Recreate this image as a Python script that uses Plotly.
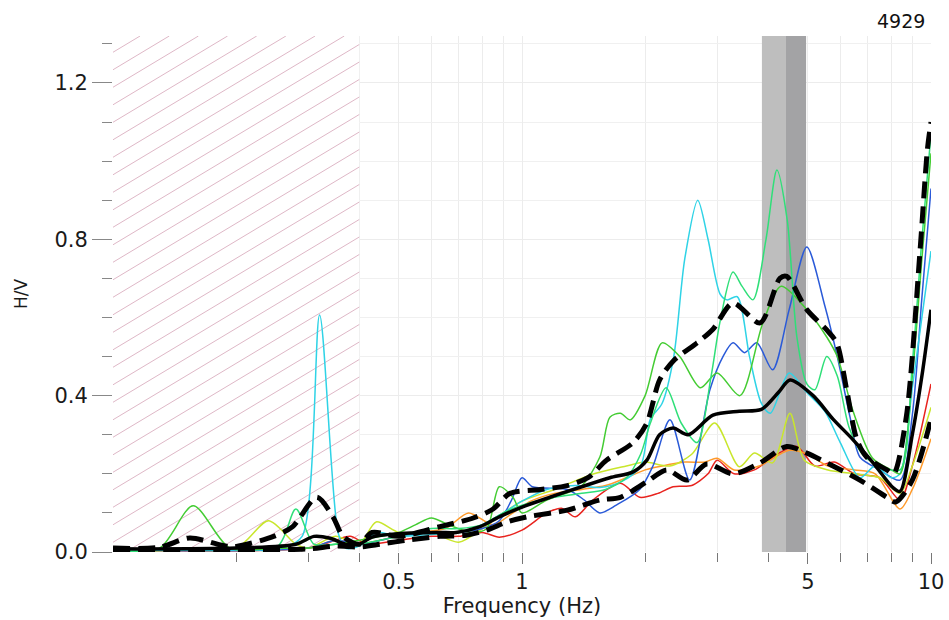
import plotly.graph_objects as go
import math

# ---------------- data ----------------
f_mean = [0.1, 0.2, 0.28, 0.31, 0.34, 0.37, 0.4, 0.43, 0.52, 0.63, 0.69, 0.79, 0.88, 1.0, 1.17, 1.4, 1.64,
          1.87, 2.02, 2.17, 2.34, 2.55, 2.93, 3.4, 3.85, 4.25, 4.52, 5.15, 5.76, 6.45, 7.22, 8.07, 8.4, 9.0, 9.5, 10]
v_mean = [0.008, 0.01, 0.02, 0.04, 0.035, 0.02, 0.02, 0.038, 0.048, 0.05, 0.05, 0.065, 0.09, 0.115, 0.14, 0.167, 0.19,
          0.205, 0.235, 0.30, 0.317, 0.30, 0.35, 0.36, 0.365, 0.41, 0.44, 0.40, 0.34, 0.287, 0.228, 0.165, 0.155, 0.30, 0.45, 0.62]

f_upper = [0.1, 0.13, 0.154, 0.18, 0.196, 0.247, 0.275, 0.315, 0.345, 0.365, 0.4, 0.43, 0.5, 0.63, 0.76, 0.85, 0.935,
           1.11, 1.29, 1.45, 1.61, 1.87, 2.02, 2.17, 2.35, 2.68, 2.93, 3.28, 3.82, 4.27, 4.44, 4.97, 5.56, 5.88, 6.22,
           6.59, 6.96, 7.8, 8.1, 8.7, 9.4, 9.8, 10]
v_upper = [0.01, 0.012, 0.036, 0.02, 0.013, 0.04, 0.065, 0.14, 0.09, 0.04, 0.02, 0.05, 0.04, 0.065, 0.087, 0.11, 0.15,
           0.16, 0.17, 0.19, 0.235, 0.28, 0.33, 0.44, 0.49, 0.535, 0.57, 0.637, 0.586, 0.70, 0.705, 0.62, 0.568, 0.535, 0.415,
           0.287, 0.243, 0.21, 0.20, 0.345, 0.77, 1.03, 1.10]

f_lower = [0.1, 0.2, 0.3, 0.35, 0.4, 0.45, 0.52, 0.63, 0.73, 0.82, 0.92, 1.03, 1.29, 1.55, 1.74, 2.02, 2.26, 2.53,
           2.83, 3.28, 3.82, 4.44, 4.97, 5.76, 6.7, 7.8, 8.2, 9.0, 10]
v_lower = [0.005, 0.005, 0.008, 0.015, 0.013, 0.02, 0.03, 0.04, 0.043, 0.056, 0.077, 0.09, 0.107, 0.133, 0.14, 0.18, 0.21, 0.184,
           0.225, 0.20, 0.228, 0.27, 0.253, 0.22, 0.184, 0.14, 0.128, 0.184, 0.34]

f_cyan = [0.1, 0.2, 0.26, 0.29, 0.32, 0.355, 0.37, 0.4, 0.44, 0.5, 0.6, 0.7, 0.8, 0.9, 1.0, 1.15, 1.35, 1.55, 1.75,
          1.95, 2.06, 2.2, 2.35, 2.5, 2.69, 2.85, 3.05, 3.17, 3.36, 3.6, 3.85, 4.05, 4.5, 4.95, 5.5, 6.0, 6.7, 7.3,
          8.0, 8.4, 9.0, 9.5, 10]
v_cyan = [0.005, 0.005, 0.01, 0.04, 0.606, 0.05, 0.01, 0.015, 0.05, 0.04, 0.045, 0.05, 0.07, 0.10, 0.13, 0.16, 0.17, 0.165, 0.18,
          0.22, 0.34, 0.38, 0.50, 0.75, 0.90, 0.80, 0.66, 0.645, 0.653, 0.50, 0.38, 0.355, 0.458, 0.41, 0.36, 0.28, 0.19, 0.22,
          0.19, 0.20, 0.42, 0.60, 0.77]

f_blue = [0.1, 0.3, 0.35, 0.4, 0.5, 0.6, 0.7, 0.8, 0.88, 0.94, 1.0, 1.06, 1.29, 1.42, 1.55, 1.7, 1.94, 2.09, 2.3,
          2.57, 2.88, 3.1, 3.28, 3.5, 3.75, 4.1, 4.5, 4.97, 5.5, 5.9, 6.34, 6.7, 7.5, 8.4, 9.0, 9.5, 10]
v_blue = [0.005, 0.01, 0.03, 0.02, 0.04, 0.05, 0.05, 0.06, 0.08, 0.13, 0.19, 0.167, 0.16, 0.133, 0.10, 0.12, 0.16, 0.22, 0.338,
          0.184, 0.415, 0.50, 0.535, 0.51, 0.535, 0.466, 0.62, 0.78, 0.63, 0.50, 0.345, 0.243, 0.21, 0.184, 0.35, 0.65, 0.93]

f_red = [0.1, 0.3, 0.35, 0.38, 0.42, 0.5, 0.6, 0.7, 0.8, 0.88, 1.0, 1.15, 1.25, 1.35, 1.49, 1.74, 1.94, 2.15, 2.34,
         2.6, 2.85, 3.0, 3.3, 3.7, 4.2, 4.7, 5.2, 5.8, 6.5, 7.5, 8.4, 9.0, 10]
v_red = [0.005, 0.01, 0.03, 0.04, 0.02, 0.03, 0.04, 0.04, 0.05, 0.038, 0.056, 0.10, 0.112, 0.09, 0.133, 0.176, 0.14, 0.15, 0.167,
         0.17, 0.20, 0.235, 0.20, 0.21, 0.25, 0.27, 0.22, 0.23, 0.20, 0.19, 0.133, 0.22, 0.43]

f_orange = [0.1, 0.3, 0.35, 0.4, 0.45, 0.55, 0.65, 0.74, 0.85, 0.95, 1.05, 1.2, 1.4, 1.6, 1.8, 2.0, 2.2, 2.5, 2.8,
            3.0, 3.3, 3.8, 4.5, 5.0, 5.6, 6.5, 7.3, 8.4, 9.0, 10]
v_orange = [0.005, 0.01, 0.03, 0.02, 0.03, 0.05, 0.06, 0.10, 0.07, 0.10, 0.13, 0.15, 0.16, 0.17, 0.19, 0.21, 0.22, 0.23, 0.23,
            0.24, 0.21, 0.22, 0.26, 0.25, 0.22, 0.21, 0.20, 0.11, 0.16, 0.29]

f_yellow = [0.1, 0.2, 0.24, 0.28, 0.3, 0.35, 0.4, 0.44, 0.5, 0.6, 0.7, 0.8, 0.9, 1.0, 1.2, 1.5, 1.8, 2.0, 2.3, 2.6,
            2.96, 3.4, 3.7, 4.1, 4.52, 4.9, 5.6, 6.5, 7.5, 8.4, 9.0, 10]
v_yellow = [0.005, 0.01, 0.08, 0.02, 0.01, 0.04, 0.02, 0.077, 0.05, 0.05, 0.025, 0.06, 0.10, 0.13, 0.16, 0.20, 0.22, 0.23, 0.22, 0.25,
            0.33, 0.218, 0.253, 0.228, 0.355, 0.235, 0.21, 0.20, 0.19, 0.15, 0.22, 0.37]

f_lime = [0.1, 0.13, 0.157, 0.193, 0.25, 0.3, 0.35, 0.4, 0.45, 0.5, 0.55, 0.6, 0.66, 0.75, 0.82, 0.88, 0.95, 1.0, 1.15,
          1.39, 1.55, 1.64, 1.74, 1.84, 2.0, 2.2, 2.43, 2.73, 3.0, 3.41, 3.88, 4.3, 4.97, 5.56, 5.9, 6.45, 7.2, 8.0,
          8.4, 9.0, 9.5, 10]
v_lime = [0.005, 0.01, 0.118, 0.01, 0.01, 0.01, 0.02, 0.03, 0.04, 0.05, 0.07, 0.087, 0.07, 0.05, 0.06, 0.167, 0.14, 0.10, 0.133,
          0.167, 0.243, 0.345, 0.355, 0.338, 0.40, 0.535, 0.50, 0.42, 0.458, 0.40, 0.586, 0.68, 0.62, 0.55, 0.50, 0.36, 0.24, 0.21,
          0.20, 0.45, 0.75, 1.02]

f_spring = [0.1, 0.25, 0.28, 0.31, 0.35, 0.4, 0.45, 0.5, 0.6, 0.7, 0.8, 0.9, 1.0, 1.2, 1.4, 1.6, 1.8, 1.95, 2.06, 2.25,
            2.45, 2.68, 2.9, 3.05, 3.28, 3.45, 3.67, 3.95, 4.2, 4.45, 4.7, 4.97, 5.2, 5.56, 5.9, 6.3, 6.8, 7.5, 8.4,
            9.0, 9.5, 10]
v_spring = [0.005, 0.01, 0.11, 0.02, 0.02, 0.02, 0.03, 0.04, 0.06, 0.06, 0.07, 0.10, 0.12, 0.14, 0.15, 0.16, 0.19, 0.25, 0.33, 0.42,
            0.33, 0.28, 0.45, 0.59, 0.716, 0.68, 0.645, 0.80, 0.977, 0.85, 0.55, 0.43, 0.415, 0.50, 0.45, 0.32, 0.25, 0.22, 0.21,
            0.48, 0.80, 1.07]

peak_band = [3.86, 4.42, 4.95]      # f0 band (light / dark parts)
hatch_limit = 0.4                   # lowest usable frequency
station = "4929"
x_ticks = [0.5, 1, 5, 10]
x_ticktext = ["0.5", "1", "5", "10"]
x_minor = [0.2, 0.3, 0.4, 0.6, 0.7, 0.8, 0.9, 2, 3, 4, 6, 7, 8, 9]

FONT = "DejaVu Sans"
X_LOG_RANGE = [-1, 1]
Y_RANGE = [0, 1.32]

# ---------------- layout geometry ----------------
W, H = 949, 620
ml, mr, mt, mb = 113, 18, 36, 68
pw, ph = W - ml - mr, H - mt - mb


def px_to_data(xp, yp):
    xd = 10 ** (X_LOG_RANGE[0] + (X_LOG_RANGE[1] - X_LOG_RANGE[0]) * xp / pw)
    yd = Y_RANGE[0] + (Y_RANGE[1] - Y_RANGE[0]) * yp / ph
    return xd, yd


fig = go.Figure()
xmin = 10 ** X_LOG_RANGE[0]

# white backing of hatched zone (hides grid)
fig.add_trace(go.Scatter(x=[xmin, xmin, hatch_limit, hatch_limit, xmin], y=[0, Y_RANGE[1], Y_RANGE[1], 0, 0],
                         mode="lines", fill="toself", fillcolor="white", line=dict(width=0),
                         showlegend=False, hoverinfo="skip"))
# hatch lines
wpx = (math.log10(hatch_limit) - X_LOG_RANGE[0]) / (X_LOG_RANGE[1] - X_LOG_RANGE[0]) * pw
slope, step = 0.6, 17.5
hx, hy = [], []
c = -slope * wpx
while c < ph:
    xs = max(0.0, -c / slope)
    xe = min(wpx, (ph - c) / slope)
    if xs < xe:
        a = px_to_data(xs, c + slope * xs)
        b = px_to_data(xe, c + slope * xe)
        hx += [a[0], b[0], None]
        hy += [a[1], b[1], None]
    c += step
fig.add_trace(go.Scatter(x=hx, y=hy, mode="lines", line=dict(color="rgba(200,135,160,0.6)", width=1),
                         showlegend=False, hoverinfo="skip"))

# peak band
for (a, b), col in [((peak_band[0], peak_band[1]), "#bebebe"), ((peak_band[1], peak_band[2]), "#a3a3a5")]:
    fig.add_trace(go.Scatter(x=[a, a, b, b, a], y=[0, Y_RANGE[1], Y_RANGE[1], 0, 0], mode="lines", fill="toself",
                             fillcolor=col, line=dict(width=0), showlegend=False, hoverinfo="skip"))

colored = [
    (f_red, v_red, "#e8231e"),
    (f_orange, v_orange, "#ff9a2a"),
    (f_yellow, v_yellow, "#c9e62c"),
    (f_blue, v_blue, "#2a5ad8"),
    (f_cyan, v_cyan, "#2fd3e6"),
    (f_lime, v_lime, "#44cc33"),
    (f_spring, v_spring, "#2fdf78"),
]
for fx, vy, col in colored:
    fig.add_trace(go.Scatter(x=fx, y=vy, mode="lines",
                             line=dict(color=col, width=1.5, shape="spline", smoothing=0.8),
                             showlegend=False, hoverinfo="skip"))

for fx, vy in [(f_upper, v_upper), (f_lower, v_lower)]:
    fig.add_trace(go.Scatter(x=fx, y=vy, mode="lines",
                             line=dict(color="black", width=5, dash="17px,8px", shape="spline", smoothing=0.8),
                             showlegend=False, hoverinfo="skip"))
fig.add_trace(go.Scatter(x=f_mean, y=v_mean, mode="lines",
                         line=dict(color="black", width=3.5, shape="spline", smoothing=0.8),
                         showlegend=False, hoverinfo="skip"))

fig.update_layout(
    width=W, height=H,
    margin=dict(l=ml, r=mr, t=mt, b=mb, autoexpand=False),
    paper_bgcolor="white", plot_bgcolor="white",
    font=dict(family=FONT, color="#222"),
    annotations=[dict(text=station, xref="paper", yref="paper", x=0.995, y=1, xanchor="right", yanchor="bottom",
                      yshift=2, showarrow=False, font=dict(family=FONT, size=19, color="#111"))],
)

fig.update_xaxes(type="log", range=X_LOG_RANGE, tickmode="array", tickvals=x_ticks, ticktext=x_ticktext,
                 automargin=False,
                 ticks="outside", ticklen=11, tickcolor="#777", tickwidth=1,
                 showgrid=True, gridcolor="#ececec", gridwidth=1, zeroline=False, showline=False,
                 tickfont=dict(family=FONT, size=21, color="#1a1a1a"),
                 minor=dict(tickmode="array", tickvals=x_minor, ticks="outside", ticklen=9, tickcolor="#777",
                            showgrid=True, gridcolor="#ececec"),
                 title=dict(text="Frequency (Hz)", font=dict(family=FONT, size=21, color="#1a1a1a"), standoff=4))

fig.update_yaxes(range=Y_RANGE, dtick=0.4, tick0=0, tickformat=".1f", automargin=False,
                 ticks="outside", ticklen=20, tickcolor="#888", tickwidth=1,
                 showgrid=True, gridcolor="#ececec", zeroline=False, showline=False,
                 tickfont=dict(family=FONT, size=21, color="#1a1a1a"),
                 minor=dict(dtick=0.1, ticks="outside", ticklen=10, tickcolor="#888", showgrid=True, gridcolor="#f0f0f0"),
                 title=dict(text="H/V", font=dict(family=FONT, size=17, color="#1a1a1a"), standoff=22))

fig.write_html("out.html")
